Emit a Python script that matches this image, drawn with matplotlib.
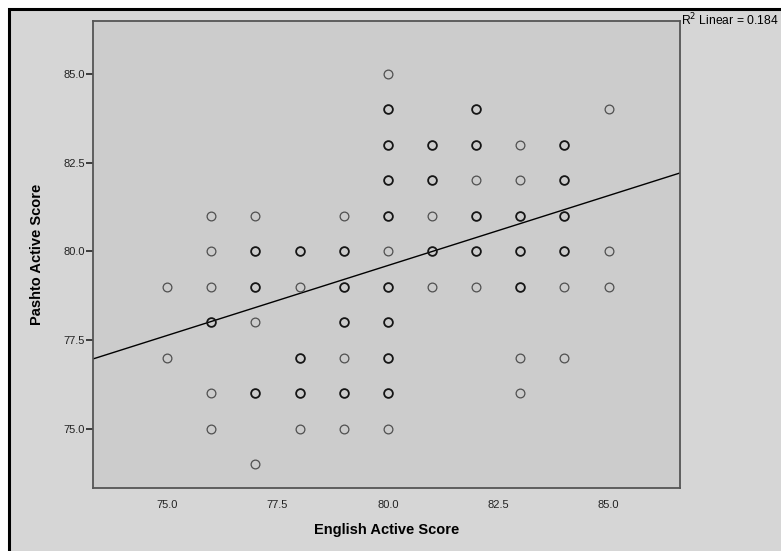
import numpy as np
import matplotlib.pyplot as plt
from matplotlib.patches import Rectangle

plt.rcParams['font.family'] = ['Liberation Sans', 'DejaVu Sans']

# English score -> list of Pashto scores seen in that column
english = [75, 75,
           76, 76, 76, 76, 76, 76,
           77, 77, 77, 77, 77, 77,
           78, 78, 78, 78, 78,
           79, 79, 79, 79, 79, 79, 79,
           80, 80, 80, 80, 80, 80, 80, 80, 80, 80, 80,
           81, 81, 81, 81, 81,
           82, 82, 82, 82, 82, 82,
           83, 83, 83, 83, 83, 83, 83,
           84, 84, 84, 84, 84, 84,
           85, 85, 85]
pashto = [79, 77,
          81, 80, 79, 78, 76, 75,
          81, 80, 79, 78, 76, 74,
          80, 79, 77, 76, 75,
          81, 80, 79, 78, 77, 76, 75,
          85, 84, 83, 82, 81, 80, 79, 78, 77, 76, 75,
          83, 82, 81, 80, 79,
          84, 83, 82, 81, 80, 79,
          83, 82, 81, 80, 79, 77, 76,
          83, 82, 81, 80, 79, 77,
          84, 80, 79]
# darker circles = overlapping cases
overlap = [1, 1,
           1, 1, 1, 2, 1, 1,
           1, 2, 2, 1, 2, 1,
           2, 1, 2, 2, 1,
           1, 2, 2, 2, 1, 2, 1,
           1, 2, 2, 2, 2, 1, 2, 2, 2, 2, 1,
           2, 2, 1, 2, 1,
           2, 2, 1, 2, 2, 1,
           1, 1, 2, 2, 2, 1, 1,
           2, 2, 2, 2, 1, 1,
           1, 1, 1]

# fit line
slope = 0.394
intercept = 48.08
r2_text = 'R$^2$ Linear = 0.184'

fig = plt.figure(figsize=(7.81, 5.51), dpi=100)
fig.patch.set_facecolor('white')
fig.patches.append(Rectangle((9 / 781, -0.1), 2, 1 - 8.5 / 551 + 0.1,
                             transform=fig.transFigure, facecolor='#d6d6d6',
                             edgecolor='black', linewidth=2.2, zorder=-10))

ax = fig.add_axes([93 / 781, 1 - 487.7 / 551, (680 - 93) / 781, (487.7 - 21) / 551])
ax.set_facecolor('#cccccc')
ax.set_xlim(73.32, 86.62)
ax.set_ylim(73.34, 86.49)

x = np.array(english)
y = np.array(pashto)
c = np.array(overlap)
for n, col, lw in [(1, '#505050', 0.9), (2, '#151515', 1.3)]:
    m = c == n
    ax.plot(x[m], y[m], 'o', ms=6.3, mfc='none', mec=col, mew=lw, zorder=3)

xs = np.array(ax.get_xlim())
ax.plot(xs, intercept + slope * xs, color='black', lw=1.0, zorder=2)

ax.set_xticks([75, 77.5, 80, 82.5, 85])
ax.set_yticks([75, 77.5, 80, 82.5, 85])
ax.set_xticklabels(['75.0', '77.5', '80.0', '82.5', '85.0'])
ax.set_yticklabels(['75.0', '77.5', '80.0', '82.5', '85.0'])
ax.tick_params(axis='x', length=0, pad=9, labelsize=8, labelcolor='#222222')
ax.tick_params(axis='y', length=5, width=1.2, pad=1, labelsize=8, labelcolor='#222222', color='#222222')
for s in ax.spines.values():
    s.set_color('#555555')
    s.set_linewidth(1.3)

ax.set_xlabel('English Active Score', fontsize=10.5, fontweight='bold', labelpad=9)
ax.set_ylabel('Pashto Active Score', fontsize=10.5, fontweight='bold', labelpad=14)

fig.text(681 / 781, 1 - 20 / 551, r2_text, fontsize=8.7, va='center', ha='left')

fig.savefig('out.png', dpi=100, facecolor=fig.get_facecolor())
